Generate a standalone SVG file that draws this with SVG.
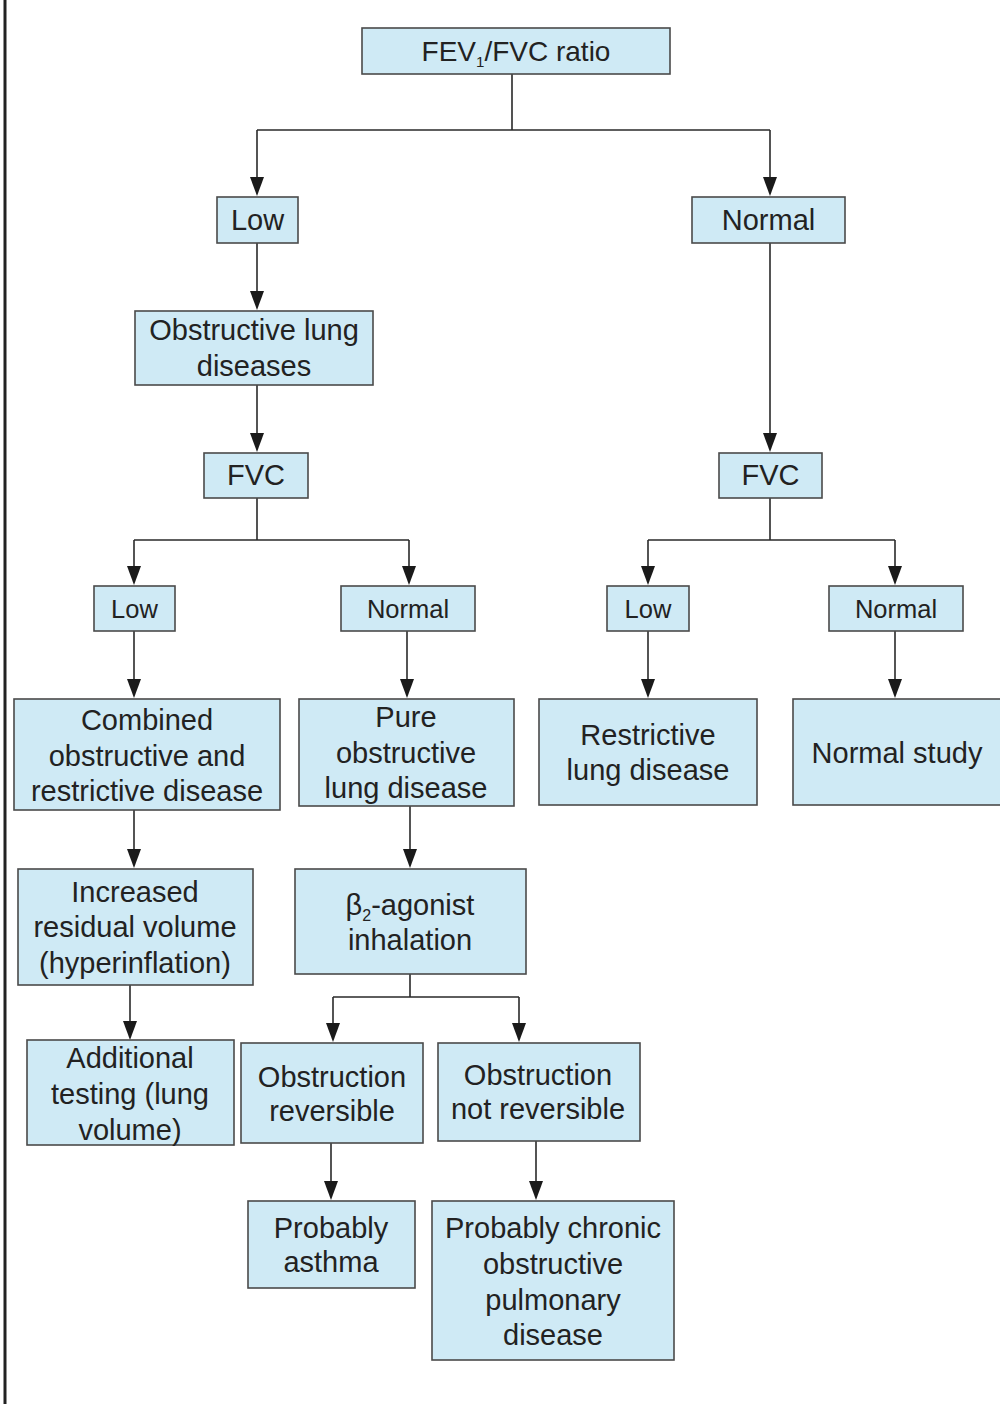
<svg xmlns="http://www.w3.org/2000/svg" width="1000" height="1404" viewBox="0 0 1000 1404">
<defs>
<path id="ah" d="M-7,-19 L7,-19 L0,0 Z" fill="#1a1a1a"/>
</defs>
<style>
.box{fill:#cfeaf5;stroke:#4a4a4a;stroke-width:1.6}
.t{font-family:"Liberation Sans",Arial,sans-serif;font-size:29px;fill:#222;text-anchor:middle}
.s{font-size:25.5px}
.c{fill:none;stroke:#2a2a2a;stroke-width:1.6}
</style>
<rect width="1000" height="1404" fill="#ffffff"/>
<line x1="5" y1="0" x2="5" y2="1404" stroke="#222" stroke-width="3"/>

<g id="connectors">
<path class="c" d="M512,74 V130 M257,130 H770"/>
<path d="M257,130 V179" class="c"/><use href="#ah" x="257" y="196"/>
<path d="M770,130 V179" class="c"/><use href="#ah" x="770" y="196"/>
<path d="M257,243 V293" class="c"/><use href="#ah" x="257" y="310"/>
<path d="M257,385 V435" class="c"/><use href="#ah" x="257" y="452"/>
<path d="M770,243 V435" class="c"/><use href="#ah" x="770" y="452"/>
<path d="M257,498 V540 M134,540 H409" class="c"/>
<path d="M134,540 V568" class="c"/><use href="#ah" x="134" y="585"/>
<path d="M409,540 V568" class="c"/><use href="#ah" x="409" y="585"/>
<path d="M770,498 V540 M648,540 H895" class="c"/>
<path d="M648,540 V568" class="c"/><use href="#ah" x="648" y="585"/>
<path d="M895,540 V568" class="c"/><use href="#ah" x="895" y="585"/>
<path d="M134,631 V681" class="c"/><use href="#ah" x="134" y="698"/>
<path d="M407,631 V681" class="c"/><use href="#ah" x="407" y="698"/>
<path d="M648,631 V681" class="c"/><use href="#ah" x="648" y="698"/>
<path d="M895,631 V681" class="c"/><use href="#ah" x="895" y="698"/>
<path d="M134,810 V851" class="c"/><use href="#ah" x="134" y="868"/>
<path d="M410,806 V851" class="c"/><use href="#ah" x="410" y="868"/>
<path d="M130,985 V1023" class="c"/><use href="#ah" x="130" y="1040"/>
<path d="M410,974 V997 M333,997 H519" class="c"/>
<path d="M333,997 V1025" class="c"/><use href="#ah" x="333" y="1042"/>
<path d="M519,997 V1025" class="c"/><use href="#ah" x="519" y="1042"/>
<path d="M331,1143 V1183" class="c"/><use href="#ah" x="331" y="1200"/>
<path d="M536,1141 V1183" class="c"/><use href="#ah" x="536" y="1200"/>
</g>

<g id="n-ratio"><rect class="box" x="362" y="28" width="308" height="46"/>
<text class="t" x="516" y="61" style="font-size:28px">FEV<tspan font-size="15" dy="6">1</tspan><tspan dy="-6">/FVC ratio</tspan></text></g>
<g id="n-low1"><rect class="box" x="217" y="197" width="81" height="46"/><text class="t" x="257.5" y="230">Low</text></g>
<g id="n-normal1"><rect class="box" x="692" y="197" width="153" height="46"/><text class="t" x="768.5" y="230">Normal</text></g>
<g id="n-obstructive"><rect class="box" x="135" y="311" width="238" height="74"/>
<text class="t" x="254" y="340">Obstructive lung</text><text class="t" x="254" y="376">diseases</text></g>
<g id="n-fvc1"><rect class="box" x="204" y="453" width="104" height="45"/><text class="t" x="256" y="485">FVC</text></g>
<g id="n-fvc2"><rect class="box" x="719" y="453" width="103" height="45"/><text class="t" x="770.5" y="485">FVC</text></g>
<g id="n-low2"><rect class="box" x="94" y="586" width="81" height="45"/><text class="t s" x="134.5" y="618">Low</text></g>
<g id="n-normal2"><rect class="box" x="341" y="586" width="134" height="45"/><text class="t s" x="408" y="618">Normal</text></g>
<g id="n-low3"><rect class="box" x="607" y="586" width="82" height="45"/><text class="t s" x="648" y="618">Low</text></g>
<g id="n-normal3"><rect class="box" x="829" y="586" width="134" height="45"/><text class="t s" x="896" y="618">Normal</text></g>
<g id="n-combined"><rect class="box" x="14" y="699" width="266" height="111"/>
<text class="t" x="147" y="730">Combined</text><text class="t" x="147" y="766">obstructive and</text><text class="t" x="147" y="801">restrictive disease</text></g>
<g id="n-pure"><rect class="box" x="299" y="699" width="215" height="107"/>
<text class="t" x="406" y="727">Pure</text><text class="t" x="406" y="763">obstructive</text><text class="t" x="406" y="798">lung disease</text></g>
<g id="n-restrictive"><rect class="box" x="539" y="699" width="218" height="106"/>
<text class="t" x="648" y="745">Restrictive</text><text class="t" x="648" y="780">lung disease</text></g>
<g id="n-normalstudy"><rect class="box" x="793" y="699" width="210" height="106"/>
<text class="t" x="897" y="763">Normal study</text></g>
<g id="n-increased"><rect class="box" x="18" y="869" width="235" height="116"/>
<text class="t" x="135" y="902">Increased</text><text class="t" x="135" y="937">residual volume</text><text class="t" x="135" y="973">(hyperinflation)</text></g>
<g id="n-beta"><rect class="box" x="295" y="869" width="231" height="105"/>
<text class="t" x="410" y="915">β<tspan font-size="16" dy="6">2</tspan><tspan dy="-6">-agonist</tspan></text><text class="t" x="410" y="950">inhalation</text></g>
<g id="n-additional"><rect class="box" x="27" y="1040" width="207" height="105"/>
<text class="t" x="130" y="1068">Additional</text><text class="t" x="130" y="1104">testing (lung</text><text class="t" x="130" y="1140">volume)</text></g>
<g id="n-reversible"><rect class="box" x="241" y="1043" width="182" height="100"/>
<text class="t" x="332" y="1087">Obstruction</text><text class="t" x="332" y="1121">reversible</text></g>
<g id="n-notreversible"><rect class="box" x="438" y="1043" width="202" height="98"/>
<text class="t" x="538" y="1085">Obstruction</text><text class="t" x="538" y="1119">not reversible</text></g>
<g id="n-asthma"><rect class="box" x="248" y="1201" width="167" height="87"/>
<text class="t" x="331" y="1238">Probably</text><text class="t" x="331" y="1272">asthma</text></g>
<g id="n-copd"><rect class="box" x="432" y="1201" width="242" height="159"/>
<text class="t" x="553" y="1238">Probably chronic</text><text class="t" x="553" y="1274">obstructive</text><text class="t" x="553" y="1310">pulmonary</text><text class="t" x="553" y="1345">disease</text></g>
</svg>
